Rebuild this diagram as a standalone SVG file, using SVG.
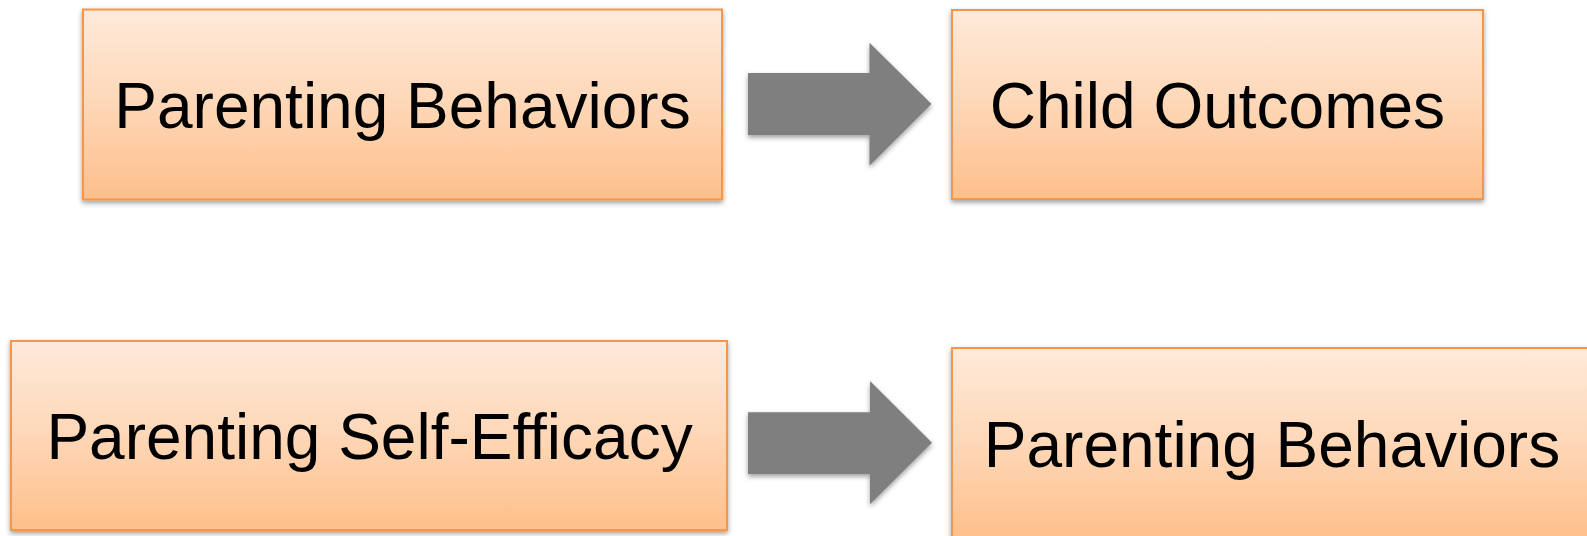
<svg xmlns="http://www.w3.org/2000/svg" width="1587" height="536" viewBox="0 0 1587 536">
<defs>
<linearGradient id="fillGrad" x1="0" y1="0" x2="0" y2="1">
<stop offset="0" stop-color="#FFEADB"/>
<stop offset="0.5" stop-color="#FED7B7"/>
<stop offset="1" stop-color="#FEBF8A"/>
</linearGradient>
<filter id="shadow" x="-10%" y="-10%" width="120%" height="130%">
<feDropShadow dx="0" dy="2.5" stdDeviation="2.5" flood-color="#000" flood-opacity="0.38"/>
</filter>
</defs>
<style>
.box{fill:url(#fillGrad);stroke:#F79646;stroke-width:2;filter:url(#shadow);}
.lbl{font-family:"Liberation Sans",Arial,sans-serif;font-size:64px;fill:#000;text-anchor:middle;}
.arrow{fill:#7F7F7F;filter:url(#shadow);}
</style>
<rect width="1587" height="536" fill="#FFFFFF"/>
<g id="node-parenting-behaviors-1">
<rect class="box" x="83" y="9.5" width="639" height="190"/>
<text class="lbl" x="402.5" y="128">Parenting Behaviors</text>
</g>
<g id="node-child-outcomes">
<rect class="box" x="952" y="10" width="531" height="189"/>
<text class="lbl" x="1217.4" y="128.3">Child Outcomes</text>
</g>
<g id="node-parenting-self-efficacy">
<rect class="box" x="11" y="341" width="716" height="189"/>
<text class="lbl" x="369.5" y="459.3">Parenting Self-Efficacy</text>
</g>
<g id="node-parenting-behaviors-2">
<rect class="box" x="952" y="348" width="640" height="192"/>
<text class="lbl" x="1272" y="466.7">Parenting Behaviors</text>
</g>
<g id="connectors">
<polygon class="arrow" points="748,73 869.5,73 869.5,42.7 931.5,104 869.5,165.7 869.5,135 748,135"/>
<polygon class="arrow" points="748,412.3 870,412.3 870,381 932,442.7 870,504.3 870,474 748,474"/>
</g>
</svg>
